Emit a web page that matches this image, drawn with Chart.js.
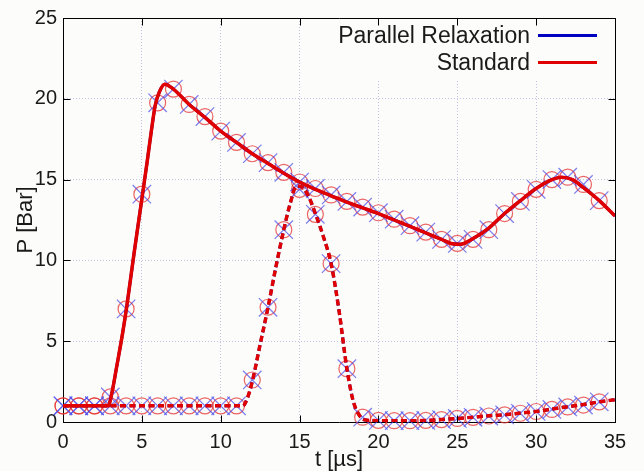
<!DOCTYPE html>
<html lang="en">

<head>
    <meta charset="UTF-8">
    <meta name="viewport" content="width=device-width, initial-scale=1.0">
    <title>Pressure history</title>
    <script src="https://cdn.jsdelivr.net/npm/chart.js"></script>
</head>

<style>
    body {
        margin: 0;
        background: #fcfcfa;
    }
    #box {
        position: relative;
        width: 644px;
        height: 471px;
    }
    #legend {
        position: absolute;
        left: 300px;
        top: 22px;
        width: 297px;
        font-family: "Liberation Sans", Arial, sans-serif;
        font-size: 23px;
        color: #1a1a1a;
    }
</style>

<body>
    <div id="box">
        <canvas id="myChart" width="644" height="471"></canvas>
        <div id="legend"></div>
    </div>

    <script>
        // first gauge: solid curve
        const lineT1 = [0, 2.87, 3.1, 3.4, 3.78, 4.05, 4.5, 5.0, 5.35, 5.6, 5.85, 6.1, 6.45, 7, 8, 9, 10, 11, 12, 13, 14, 15, 16, 17, 18, 19, 20, 21, 22, 23, 24, 24.6, 25.2, 26, 27, 28, 29, 30, 31, 31.6, 32.3, 33, 34, 35];
        const lineP1 = [1, 1, 1.8, 3.4, 5.5, 7.2, 10.4, 13.8, 16.2, 18.0, 19.6, 20.4, 20.9, 20.6, 19.65, 18.85, 18.0, 17.3, 16.6, 16.0, 15.4, 14.85, 14.4, 14.0, 13.6, 13.25, 12.9, 12.5, 12.1, 11.7, 11.3, 11.05, 11.0, 11.35, 12.0, 12.9, 13.7, 14.45, 15.0, 15.15, 15.0, 14.5, 13.7, 12.75];

        // second gauge: dashed curve
        const lineT2 = [0, 11.4, 11.7, 12, 12.5, 13, 13.5, 14, 14.4, 14.8, 15.2, 15.6, 16, 16.5, 17, 17.5, 18, 18.4, 18.8, 19.2, 20, 21, 22, 23, 24, 25, 26, 27, 28, 29, 30, 31, 32, 33, 34, 35];
        const lineP2 = [1, 1, 1.5, 2.5, 4.8, 7.1, 9.6, 11.9, 13.5, 14.6, 14.5, 13.9, 12.9, 11.5, 9.8, 6.9, 3.3, 1.3, 0.4, 0.12, 0.08, 0.07, 0.07, 0.1, 0.15, 0.22, 0.3, 0.38, 0.45, 0.55, 0.65, 0.8, 0.95, 1.08, 1.25, 1.38];

        // sampled points (circles and crosses)
        const markT = [0, 1, 2, 3, 4, 5, 6, 7, 8, 9, 10, 11, 12, 13, 14, 15, 16, 17, 18, 19, 20, 21, 22, 23, 24, 25, 26, 27, 28, 29, 30, 31, 32, 33, 34];
        const markP1 = [1, 1, 1, 1.55, 7.0, 14.1, 19.75, 20.6, 19.65, 18.9, 18.0, 17.3, 16.6, 16.05, 15.45, 14.85, 14.45, 14.05, 13.65, 13.3, 12.95, 12.55, 12.15, 11.75, 11.3, 11.05, 11.3, 11.9, 12.9, 13.65, 14.4, 15.0, 15.15, 14.7, 13.7];
        const markP2 = [1, 1, 1, 1, 1, 1, 1, 1, 1, 1, 1, 1, 2.6, 7.1, 11.9, 14.4, 12.85, 9.8, 3.3, 0.3, 0.1, 0.08, 0.08, 0.1, 0.15, 0.22, 0.29, 0.37, 0.44, 0.54, 0.65, 0.78, 0.93, 1.05, 1.25];

        const xTicks = [0, 5, 10, 15, 20, 25, 30, 35];
        const yTicks = [0, 5, 10, 15, 20, 25];

        const bg = '#fcfcfa';
        const gridColor = 'rgba(170,170,215,0.7)';

        const pts = (ts, ps) => ts.map((t, i) => ({x: t, y: ps[i]}));

        const lineSet = (label, ts, ps, color, width, dash, order) => ({
            label: label,
            data: pts(ts, ps),
            borderColor: color,
            borderWidth: width,
            borderDash: dash,
            pointRadius: 0,
            cubicInterpolationMode: 'monotone',
            fill: false,
            order: order,
        });

        const markSet = (ps, style, radius, color, order) => ({
            label: 'points',
            data: pts(markT, ps),
            showLine: false,
            pointStyle: style,
            pointRadius: radius,
            pointBorderColor: color,
            pointBackgroundColor: 'transparent',
            pointBorderWidth: 1.2,
            clip: false,
            order: order,
        });

        // key box hides the grid behind the legend
        const keyBox = {
            id: 'keyBox',
            beforeDatasetsDraw(chart) {
                const {ctx, chartArea: a} = chart;
                ctx.save();
                ctx.fillStyle = bg;
                ctx.fillRect(330, a.top + 1, a.right - 331, 60);
                ctx.restore();
            }
        };

        // full frame with inward ticks, like the original plot
        const frame = {
            id: 'frame',
            afterDraw(chart) {
                const {ctx, chartArea: a, scales: {x, y}} = chart;
                const L = Math.round(a.left) + 0.5, R = Math.round(a.right) + 0.5;
                const T = Math.round(a.top) + 0.5, B = Math.round(a.bottom) + 0.5;
                ctx.save();
                ctx.strokeStyle = '#000';
                ctx.lineWidth = 1;
                ctx.beginPath();
                ctx.moveTo(L, T); ctx.lineTo(R, T); ctx.lineTo(R, B);
                xTicks.forEach(v => {
                    const px = Math.round(x.getPixelForValue(v)) + 0.5;
                    ctx.moveTo(px, B); ctx.lineTo(px, B - 7);
                    ctx.moveTo(px, T); ctx.lineTo(px, T + 7);
                });
                yTicks.forEach(v => {
                    const py = Math.round(y.getPixelForValue(v)) + 0.5;
                    ctx.moveTo(L, py); ctx.lineTo(L + 7, py);
                    ctx.moveTo(R, py); ctx.lineTo(R - 7, py);
                });
                ctx.stroke();
                ctx.restore();
            }
        };

        const chartDraw = function () {
            const chartCanvas = document.getElementById('myChart').getContext('2d');
            const font = {family: '"Liberation Sans", Arial, sans-serif', size: 20};
            const titleFont = {family: '"Liberation Sans", Arial, sans-serif', size: 22, lineHeight: 1};

            const chart = new Chart(chartCanvas, {
                type: 'line',
                data: {
                    datasets: [
                        lineSet('Standard', lineT1, lineP1, '#e00000', 3.5, [], 0),
                        lineSet('Standard', lineT2, lineP2, '#e00000', 3.5, [6, 3.5], 0),
                        lineSet('Parallel Relaxation', lineT1, lineP1, '#0000c0', 3, [], 1),
                        lineSet('Parallel Relaxation', lineT2, lineP2, '#0000c0', 3, [6, 3.5], 1),
                        markSet(markP1, 'crossRot', 13, 'rgba(80,80,235,0.75)', 2),
                        markSet(markP2, 'crossRot', 13, 'rgba(80,80,235,0.75)', 2),
                        markSet(markP1, 'circle', 8, 'rgba(228,50,50,0.75)', 3),
                        markSet(markP2, 'circle', 8, 'rgba(228,50,50,0.75)', 3),
                    ]
                },
                options: {
                    responsive: false,
                    animation: false,
                    devicePixelRatio: 1,
                    layout: {
                        padding: {top: 15, right: 29, left: 0, bottom: 0}
                    },
                    scales: {
                        x: {
                            type: 'linear',
                            min: 0,
                            max: 35,
                            afterFit: s => { s.height = 49; },
                            ticks: {stepSize: 5, font: font, color: '#1a1a1a', padding: 8, maxRotation: 0},
                            grid: {
                                drawTicks: false,
                                color: c => (c.tick && (c.tick.value === 0 || c.tick.value === 35)) ? 'transparent' : gridColor,
                            },
                            border: {display: true, color: '#000', width: 1, dash: [1, 2]},
                            title: {display: true, text: 't [µs]', font: titleFont, color: '#1a1a1a', padding: 0},
                        },
                        y: {
                            min: 0,
                            max: 25,
                            afterFit: s => { s.width = 63; },
                            ticks: {stepSize: 5, font: font, color: '#1a1a1a', padding: 6},
                            grid: {
                                drawTicks: false,
                                color: c => (c.tick && (c.tick.value === 0 || c.tick.value === 25)) ? 'transparent' : gridColor,
                            },
                            border: {display: true, color: '#000', width: 1, dash: [1, 2]},
                            title: {display: true, text: 'P [Bar]', font: titleFont, color: '#1a1a1a', padding: {top: 15, bottom: 0}},
                        }
                    },
                    plugins: {
                        legend: {display: false},
                        tooltip: {enabled: false},
                    }
                },
                plugins: [keyBox, frame],
            });

            // Custom Legend, right aligned inside the plot like the key of the original
            const legendDiv = document.getElementById('legend');
            const items = [
                {text: 'Parallel Relaxation', color: '#0000c0'},
                {text: 'Standard', color: '#e00000'},
            ];
            items.forEach(item => {
                const row = document.createElement('div');
                row.style.display = 'flex';
                row.style.justifyContent = 'flex-end';
                row.style.alignItems = 'center';
                row.style.height = '27px';
                row.style.lineHeight = '27px';
                row.innerHTML = `
                    <span>${item.text}</span>
                    <span style="display: inline-block; width: 59px; height: 3px; margin-left: 8px; background-color: ${item.color};"></span>
                `;
                legendDiv.appendChild(row);
            });
        }

        window.onload = function () {
            chartDraw();
        }
    </script>
</body>

</html>
